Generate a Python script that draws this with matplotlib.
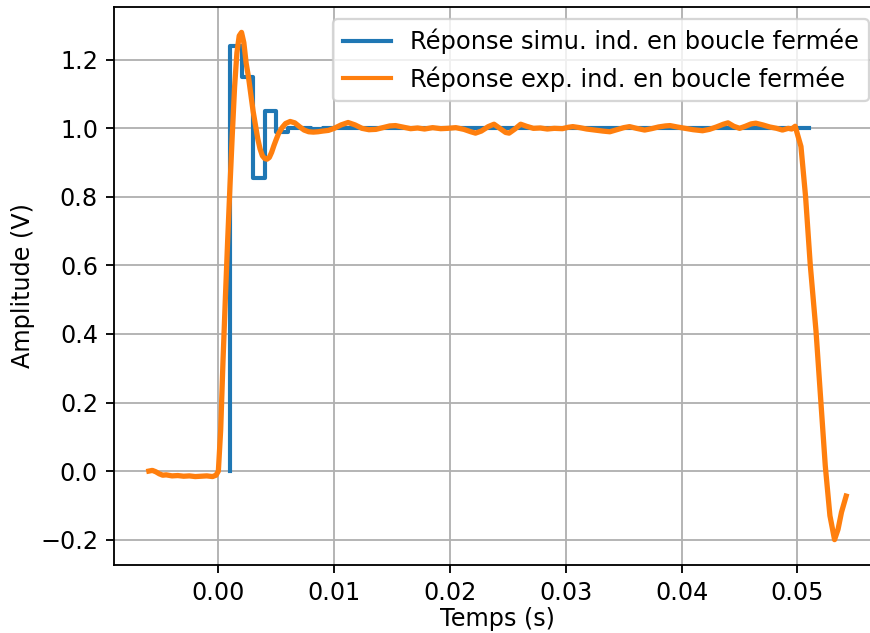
import numpy as np
import matplotlib
matplotlib.use("Agg")
import matplotlib.pyplot as plt

# Simulated closed-loop response (sampled, Te = 1 ms), drawn as steps
Te = 0.001
sim_vals = [0.0, 1.24, 1.15, 0.855, 1.05, 0.99, 1.002, 1.0, 0.999, 1.0, 1.0,
            1.0, 1.0, 1.0, 1.0, 1.0, 1.0, 1.0, 1.0, 1.0, 1.0,
            1.0, 1.0, 1.0, 1.0, 1.0, 1.0, 1.0, 1.0, 1.0, 1.0,
            1.0, 1.0, 1.0, 1.0, 1.0, 1.0, 1.0, 1.0, 1.0, 1.0,
            1.0, 1.0, 1.0, 1.0, 1.0, 1.0, 1.0, 1.0, 1.0, 1.0, 1.0]
t_sim = np.concatenate(([Te], np.arange(1, len(sim_vals)) * Te))

t_exp = [-0.0060, -0.0057, -0.0054, -0.0051, -0.0048, -0.0045, -0.0040, -0.0035,
         -0.0030, -0.0025, -0.0020, -0.0015, -0.0010, -0.0005, -0.0002, 0.0000,
         0.0002, 0.0004, 0.0006, 0.0008, 0.0010, 0.0012, 0.0014, 0.0016, 0.0018,
         0.0020, 0.0022, 0.0024, 0.0026, 0.0028, 0.0030, 0.0032, 0.0034, 0.0036,
         0.0038, 0.0040, 0.0042, 0.0044, 0.0046, 0.0048, 0.0050, 0.0052, 0.0055,
         0.0058, 0.0062, 0.0066, 0.0070, 0.0074, 0.0078, 0.0082, 0.0086, 0.0090,
         0.0095, 0.0100, 0.0106, 0.0112, 0.0118, 0.0124, 0.0130, 0.0136, 0.0142,
         0.0148, 0.0153, 0.0160, 0.0166, 0.0172, 0.0178, 0.0185, 0.0192, 0.0198,
         0.0205, 0.0212, 0.0218, 0.0222, 0.0227, 0.0233, 0.0238, 0.0243, 0.0248,
         0.0251, 0.0256, 0.0261, 0.0266, 0.0272, 0.0278, 0.0284, 0.0290, 0.0297,
         0.0302, 0.0306, 0.0312, 0.0318, 0.0325, 0.0332, 0.0338, 0.0344, 0.0350,
         0.0355, 0.0361, 0.0368, 0.0374, 0.0380, 0.0386, 0.0390, 0.0396, 0.0403,
         0.0410, 0.0418, 0.0424, 0.0430, 0.0436, 0.0440, 0.0445, 0.0450, 0.0455,
         0.0460, 0.0464, 0.0470, 0.0476, 0.0482, 0.0487, 0.0492, 0.0495, 0.0498,
         0.0503, 0.0507, 0.0511, 0.0516, 0.0520, 0.0524, 0.0528, 0.0532, 0.0535,
         0.0538, 0.0542]
v_exp = [0.000, 0.002, -0.002, -0.008, -0.012, -0.011, -0.014, -0.013,
         -0.015, -0.014, -0.016, -0.015, -0.014, -0.016, -0.012, 0.000,
         0.12, 0.32, 0.50, 0.67, 0.83, 0.98, 1.12, 1.22, 1.27,
         1.28, 1.25, 1.19, 1.15, 1.10, 1.05, 1.01, 0.97, 0.94,
         0.92, 0.912, 0.91, 0.915, 0.93, 0.95, 0.968, 0.985, 1.002,
         1.014, 1.02, 1.016, 1.005, 0.995, 0.99, 0.989, 0.99, 0.992,
         0.994, 1.000, 1.010, 1.017, 1.010, 1.000, 0.996, 0.997, 1.002,
         1.007, 1.008, 1.003, 0.999, 1.001, 0.998, 1.002, 0.999, 1.000,
         1.002, 0.997, 0.990, 0.986, 0.992, 1.005, 1.012, 1.000, 0.988,
         0.986, 0.998, 1.012, 1.006, 1.000, 1.001, 0.998, 1.000, 0.999,
         1.003, 1.005, 1.002, 0.998, 0.995, 0.992, 0.990, 0.996, 1.002,
         1.005, 1.000, 0.995, 0.999, 1.004, 1.007, 1.008, 1.004, 1.000,
         0.996, 0.993, 0.997, 1.004, 1.012, 1.016, 1.006, 1.000, 1.006,
         1.013, 1.015, 1.010, 1.004, 1.000, 0.995, 1.000, 0.998, 1.006,
         0.947, 0.80, 0.603, 0.408, 0.21, 0.015, -0.13, -0.20, -0.17,
         -0.12, -0.073]

W, H, dpi = 871, 633, 165
plt.rcParams['font.size'] = 10.4
fig = plt.figure(figsize=(W / dpi, H / dpi), dpi=dpi)
ax = fig.add_axes([114 / W, (H - 565) / H, (881 - 114) / W, (565 - 7) / H])

ax.step(t_sim, sim_vals, where="post", lw=1.8, color="C0",
        label="Réponse simu. ind. en boucle fermée")
ax.plot(t_exp, v_exp, lw=2.3, color="C1",
        label="Réponse exp. ind. en boucle fermée")

ax.set_xlabel("Temps (s)", labelpad=1)
ax.set_ylabel("Amplitude (V)", labelpad=2)
ax.grid(True)
leg = ax.legend(loc="upper right", fontsize=10.5)
for line in leg.get_lines():
    line.set_linewidth(1.8)

fig.savefig("out.png", dpi=dpi)
